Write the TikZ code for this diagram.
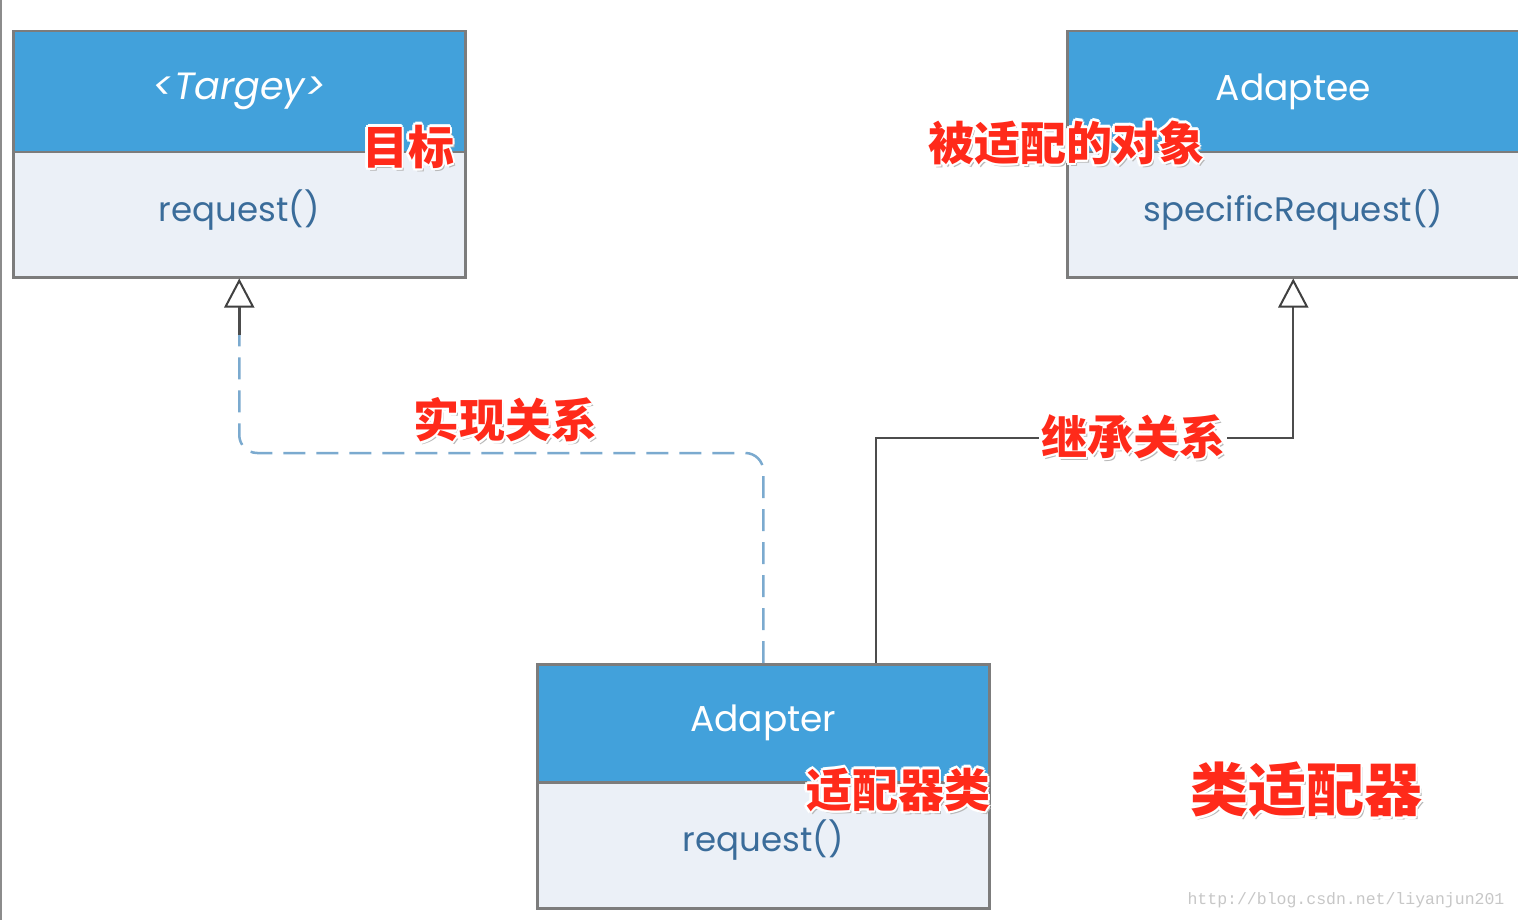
\documentclass[tikz,border=0pt]{standalone}
\usepackage{fontspec}
\usetikzlibrary{arrows.meta,calc}
\newfontfamily\umlfont{Poppins}
\newfontfamily\cjk{Noto Sans CJK SC}
\newfontfamily\wmfont{Liberation Mono}
\definecolor{hdrblue}{HTML}{42A1DB}
\definecolor{bodybg}{HTML}{EBF0F7}
\definecolor{boxline}{HTML}{7C7C7C}
\definecolor{bodytext}{HTML}{3A6C9A}
\definecolor{dashblue}{HTML}{7BAACF}
\definecolor{labred}{HTML}{FF2A1A}
\newcommand\halo[1]{\leavevmode
  \rlap{\hspace{2.5pt}\raisebox{-3pt}{\color{black!28}#1}}%
  \rlap{\hspace{-2.5pt}\color{white}#1}\rlap{\hspace{2.5pt}\color{white}#1}%
  \rlap{\raisebox{2.5pt}{\color{white}#1}}\rlap{\raisebox{-2.5pt}{\color{white}#1}}%
  \rlap{\hspace{-1.8pt}\raisebox{1.8pt}{\color{white}#1}}\rlap{\hspace{1.8pt}\raisebox{1.8pt}{\color{white}#1}}%
  \rlap{\hspace{-1.8pt}\raisebox{-1.8pt}{\color{white}#1}}\rlap{\hspace{1.8pt}\raisebox{-1.8pt}{\color{white}#1}}%
  {\color{labred}#1}}
\newcommand\up[1]{\raisebox{5pt}[\height][\depth]{#1}}
\tikzset{
  hdr/.style={draw=boxline, line width=2.5pt, fill=hdrblue, minimum width=452pt, minimum height=121pt,
    anchor=north west, inner sep=0pt, text=white, font=\umlfont\fontsize{36}{40}\selectfont},
  bodybox/.style={draw=boxline, line width=2.5pt, fill=bodybg, minimum width=452pt, minimum height=125pt,
    anchor=north west, inner sep=0pt, text=bodytext, font=\umlfont\fontsize{34}{40}\selectfont},
  redlab/.style={inner sep=0pt, font=\cjk\bfseries\fontsize{46}{50}\selectfont},
  realize/.style={dashblue, line width=2.5pt, dash pattern=on 22pt off 11pt, rounded corners=18pt},
  inherit/.style={black!70, line width=2pt},
  hollow/.style={-{Triangle[fill=white, color=black!75, length=29pt, width=30pt, line width=2pt]}}
}
\begin{document}
\begin{tikzpicture}[x=1pt,y=-1pt]
\useasboundingbox (0,0) rectangle (1518,920);
\fill[white] (0,0) rectangle (1518,920);
\draw[black!45, line width=1.5pt] (0.75,0) -- (0.75,920);
% Target
\node[hdr] (th) at (12,30) {\fontsize{38}{40}\selectfont\itshape <Targey>};
\node[bodybox] (tb) at (12,151) {\up{request()}};
% Adaptee
\node[hdr] (ah2) at (1066,30) {Adaptee};
\node[bodybox] (ab) at (1066,151) {\up{specificRequest()}};
% Adapter
\node[hdr, minimum height=118pt] (ah) at (536,663) {Adapter};
\node[bodybox, minimum height=126pt] (adb) at (536,781) {\up{request()}};
% realization (dashed)
\draw[realize] (ah.north) -- ++(0,-210) -| ($(tb.south)+(0,30)$);
\draw[realize, hollow] ($(tb.south)+(0,30)$) -- (tb.south);
\draw[black!70, line width=2.5pt] ($(tb.south)+(0,28)$) -- ($(tb.south)+(0,56)$);
% inheritance (solid)
\draw[inherit, hollow] ($(ah.north)+(113,0)$) |- ($(ab.south)+(0,159)$) -- (ab.south);
% labels
\node[redlab] (l1) at (408,147) {\halo{目标}};
\node[redlab] (l2) at (1066,143) {\halo{被适配的对象}};
\node[redlab] (l3) at (505,420) {\halo{实现关系}};
\node[redlab, fill=white, inner sep=2pt] (l4) at (1133,437) {\halo{继承关系}};
\node[redlab] (l5) at (898,790) {\halo{适配器类}};
\node[redlab, font=\cjk\bfseries\fontsize{58}{62}\selectfont] (l6) at (1306,790) {\halo{类适配器}};
\node[inner sep=0pt, text=black!22, font=\wmfont\fontsize{16.5}{18}\selectfont] (wm) at (1346,900) {http://blog.csdn.net/liyanjun201};
\end{tikzpicture}
\end{document}
